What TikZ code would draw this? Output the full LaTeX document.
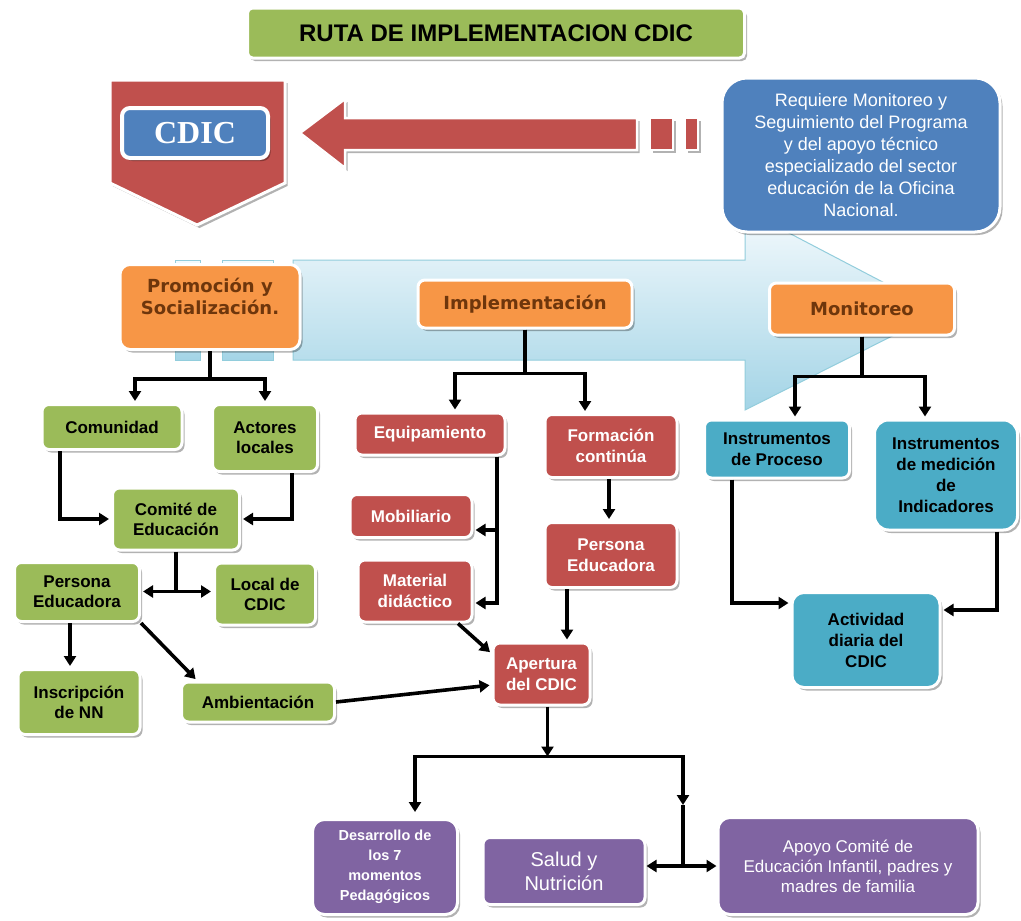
\documentclass[tikz,border=0pt]{standalone}
\usepackage{fontspec}
\newfontfamily\lib{Liberation Sans}
\newfontfamily\dejav{DejaVu Sans}
\newfontfamily\libserif{Liberation Serif}
\usetikzlibrary{arrows.meta,shadows}
\definecolor{cgreen}{HTML}{9BBB59}
\definecolor{cred}{HTML}{C0504D}
\definecolor{corange}{HTML}{F79646}
\definecolor{cteal}{HTML}{4BACC6}
\definecolor{cblue}{HTML}{4F81BD}
\definecolor{cpurple}{HTML}{8064A2}
\definecolor{cbrown}{HTML}{6E360C}
\definecolor{lbline}{HTML}{92CDDC}
\definecolor{lbtop}{HTML}{F4FAFD}
\definecolor{lbbot}{HTML}{A3D4E6}
\begin{document}
\begin{tikzpicture}[x=1pt,y=-1pt,
  shad/.style={drop shadow={shadow xshift=2.5pt,shadow yshift=-3pt,opacity=0.3,fill=black}},
  box/.style={rounded corners=7pt,draw=white,line width=3pt,align=center,inner sep=1pt,shad},
  gbox/.style={box,fill=cgreen,text=black,font=\lib\bfseries\fontsize{17}{20}\selectfont},
  rbox/.style={box,fill=cred,text=white,font=\lib\bfseries\fontsize{17}{21}\selectfont},
  tbox/.style={box,fill=cteal,text=black,font=\lib\bfseries\fontsize{17}{21}\selectfont},
  pbox/.style={box,fill=cpurple,text=white,font=\lib\fontsize{17}{20}\selectfont},
  obox/.style={box,fill=corange,text=cbrown,font=\dejav\bfseries\fontsize{18}{22}\selectfont},
  conn/.style={line width=3.6pt,-{Triangle[length=10pt,width=12pt]},shorten >=2pt},
  link/.style={line width=3.6pt},
  dconn/.style={line width=3.6pt,{Triangle[length=10pt,width=12pt]}-{Triangle[length=10pt,width=12pt]}},
  bigarrow/.style={top color=lbtop,bottom color=lbbot,draw=lbline,line width=1pt}
]
\useasboundingbox[fill=white] (0,0) rectangle (1021,921);

% big light blue arrow (background)
\path[bigarrow] (175,260) rectangle (200,360);
\path[bigarrow] (222,260) rectangle (273,360);
\path[bigarrow] (293,260) -- (745,260) -- (745,210) -- (940,312) -- (745,410) -- (745,360) -- (293,360) -- cycle;

% title
\node[box,fill=cgreen,minimum width=497pt,minimum height=50pt,rounded corners=5pt,
      font=\lib\bfseries\fontsize{24}{28}\selectfont] (title) at (496,33) {RUTA DE IMPLEMENTACION CDIC};

% CDIC banner
\draw[fill=cred,draw=white,line width=3pt,shad] (110,80) -- (285,80) -- (285,183) -- (197,225) -- (110,183) -- cycle;
\node[box,fill=cblue,text=white,minimum width=146pt,minimum height=50pt,rounded corners=8pt,line width=4pt,
      font=\libserif\bfseries\fontsize{32}{34}\selectfont] (cdic) at (195,133) {CDIC};

% red arrow pointing left
\draw[fill=cred,draw=white,line width=2.5pt,shad] (300,133) -- (345,99) -- (345,118) -- (637,118) -- (637,150) -- (345,150) -- (345,168) -- cycle;
\draw[fill=cred,draw=white,line width=2.5pt,shad] (650,118) rectangle (673,150);
\draw[fill=cred,draw=white,line width=2.5pt,shad] (685,118) rectangle (698,150);

% info box
\node[box,fill=cblue,text=white,minimum width=278pt,minimum height=154pt,rounded corners=25pt,
      font=\lib\fontsize{18}{22}\selectfont] (info) at (861,155)
  {Requiere Monitoreo y\\Seguimiento del Programa\\y del apoyo técnico\\especializado del sector\\educación de la Oficina\\Nacional.};

% orange headers
\node[obox,minimum width=180pt,minimum height=85pt,rounded corners=10pt] (prom) at (210,307) {Promoción y\\Socialización.\\~};
\node[obox,minimum width=214pt,minimum height=48pt] (impl) at (525,304) {Implementación};
\node[obox,minimum width=185pt,minimum height=52pt] (mon) at (862,309) {Monitoreo};

% green
\node[gbox,minimum width=140pt,minimum height=45pt] (com) at (112,427) {Comunidad};
\node[gbox,minimum width=105pt,minimum height=67pt] (act) at (265,438) {Actores\\locales};
\node[gbox,minimum width=127pt,minimum height=62pt] (comite) at (176,519) {Comité de\\Educación};
\node[gbox,minimum width=125pt,minimum height=59pt] (pe1) at (77,592) {Persona\\Educadora};
\node[gbox,minimum width=101pt,minimum height=62pt] (local) at (265,594) {Local de\\CDIC};
\node[gbox,minimum width=122pt,minimum height=65pt] (insc) at (79,702) {Inscripción\\de NN};
\node[gbox,minimum width=153pt,minimum height=40pt] (amb) at (258,702) {Ambientación};

% red
\node[rbox,minimum width=150pt,minimum height=42pt] (equip) at (430,434) {Equipamiento};
\node[rbox,minimum width=132pt,minimum height=63pt] (form) at (611,446) {Formación\\continúa};
\node[rbox,minimum width=122pt,minimum height=43pt] (mob) at (411,516) {Mobiliario};
\node[rbox,minimum width=114pt,minimum height=62pt] (mat) at (415,591) {Material\\didáctico};
\node[rbox,minimum width=132pt,minimum height=65pt] (pe2) at (611,555) {Persona\\Educadora};
\node[rbox,minimum width=97pt,minimum height=62pt] (aper) at (541.5,674) {Apertura\\del CDIC};

% teal
\node[tbox,minimum width=145pt,minimum height=58pt] (proc) at (777,449) {Instrumentos\\de Proceso};
\node[tbox,minimum width=143pt,minimum height=110pt,rounded corners=14pt] (ind) at (946,475) {Instrumentos\\de medición\\de\\Indicadores};
\node[tbox,minimum width=148pt,minimum height=95pt,rounded corners=12pt] (act2) at (866,640) {Actividad\\diaria del\\CDIC};

% purple
\node[pbox,minimum width=145pt,minimum height=95pt,rounded corners=12pt,
      font=\lib\bfseries\fontsize{14.5}{20}\selectfont] (des) at (385,867) {Desarrollo de\\los 7\\momentos\\Pedagógicos};
\node[pbox,minimum width=162pt,minimum height=67pt,font=\lib\fontsize{20}{24}\selectfont] (sal) at (564,871) {Salud y\\Nutrición};
\node[pbox,minimum width=260pt,minimum height=97pt,rounded corners=12pt] (apo) at (848,866) {Apoyo Comité de\\Educación Infantil, padres y\\madres de familia};

% connectors: Promoción
\draw[conn] (prom.south) -- ++(0,28) -| ([xshift=23pt]com.north);
\draw[conn] (prom.south) -- ++(0,28) -| (act.north);
\draw[conn] ([xshift=-52pt]com.south) |- (comite.west);
\draw[conn] ([xshift=27pt]act.south) |- (comite.east);
\draw[link] (comite.south) -- ++(0,40) coordinate (cj);
\draw[conn] (cj) -- (cj -| pe1.east);
\draw[conn] (cj) -- (cj -| local.west);
\draw[conn] ([xshift=-7pt]pe1.south) -- ([xshift=-9pt]insc.north);
\draw[conn] (pe1.south east) -- ([xshift=-61pt]amb.north);
\draw[conn] (amb.east) -- ([yshift=-11pt]aper.west);

% connectors: Implementación
\draw[conn] (impl.south) -- ++(0,44) -| ([xshift=25pt]equip.north);
\draw[conn] (impl.south) -- ++(0,44) -| ([xshift=-26pt]form.north);
\draw[conn] ([xshift=67pt]equip.south) |- ([yshift=-14pt]mob.east);
\draw[conn] ([xshift=67pt]equip.south) |- ([yshift=-12pt]mat.east);
\draw[conn] ([xshift=-2pt]form.south) -- ([xshift=-2pt]pe2.north);
\draw[conn] ([xshift=-44pt]pe2.south) -- ([xshift=25.5pt]aper.north);
\draw[conn] ([xshift=43pt]mat.south) -- ([yshift=-12pt]aper.north west);

% connectors: Apertura to bottom
\draw[conn,shorten >=0pt] ([xshift=6pt]aper.south) -- ++(0,50) coordinate (bj);
\draw[conn,shorten >=6pt] (bj) -| ([xshift=30pt]des.north);
\coordinate (rm) at (683,805);
\coordinate (rj) at (683,866);
\draw[conn,shorten >=0pt] (bj) -| (rm);
\draw[link] (rm) -- (rj);
\draw[dconn] (sal.east |- rj) -- (apo.west |- rj);

% connectors: Monitoreo
\draw[conn] (mon.south) -- ++(0,40) -| ([xshift=18pt]proc.north);
\draw[conn] (mon.south) -- ++(0,40) -| ([xshift=-21pt]ind.north);
\draw[conn] ([xshift=-45pt]proc.south) |- ([yshift=37pt]act2.west);
\draw[conn] ([xshift=51pt]ind.south) |- ([yshift=30pt]act2.east);
\end{tikzpicture}
\end{document}
